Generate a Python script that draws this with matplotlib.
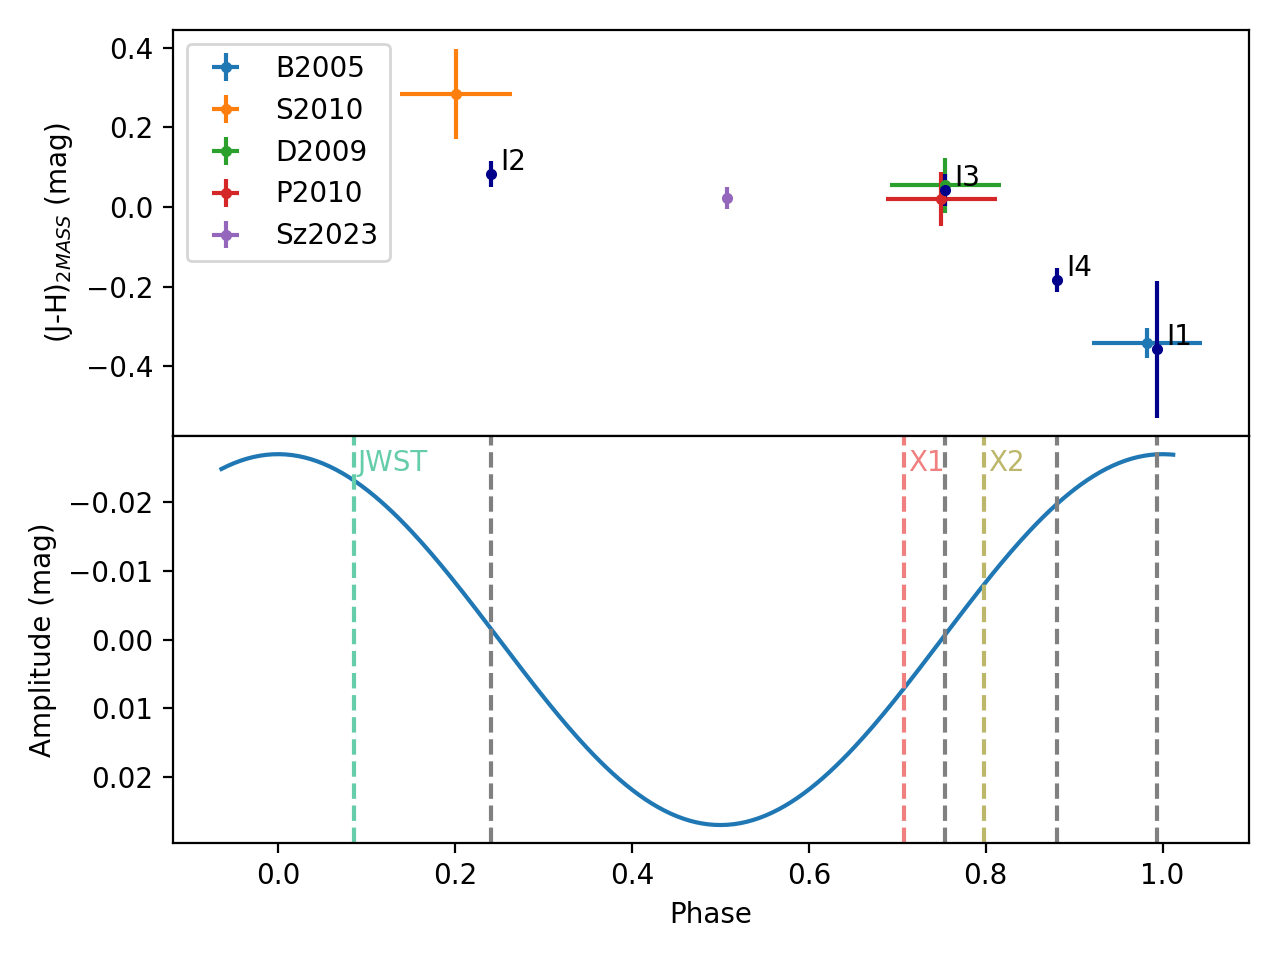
import matplotlib
matplotlib.use("Agg")
import matplotlib.pyplot as plt
import numpy as np

# literature colours
lit_labels = ["B2005", "S2010", "D2009", "P2010", "Sz2023"]
lit_phase = [0.982, 0.201, 0.7545, 0.750, 0.507]
lit_phase_err = [0.062, 0.063, 0.063, 0.063, 0.0]
lit_jh = [-0.342, 0.284, 0.055, 0.020, 0.023]
lit_jh_err = [0.038, 0.113, 0.069, 0.068, 0.028]

# our epochs
ep_labels = ["I1", "I2", "I3", "I4"]
ep_phase = [0.994, 0.241, 0.7545, 0.881]
ep_jh = [-0.357, 0.083, 0.043, -0.184]
ep_jh_err = [0.172, 0.032, 0.040, 0.030]

# other observations
obs_labels = ["JWST", "X1", "X2"]
obs_phase = [0.086, 0.708, 0.7986]
obs_colors = ["mediumaquamarine", "lightcoral", "darkkhaki"]

# sine model
amplitude = 0.027
phase_range = (-0.064, 1.012)

fig, (ax1, ax2) = plt.subplots(2, 1, sharex=True, figsize=(6.4, 4.8), dpi=200)
fig.subplots_adjust(left=0.135, right=0.976, top=0.969, bottom=0.122, hspace=0)

for lab, x, xe, y, ye in zip(lit_labels, lit_phase, lit_phase_err, lit_jh, lit_jh_err):
    ax1.errorbar(x, y, xerr=xe, yerr=ye, fmt=".", label=lab)

for lab, x, y, ye in zip(ep_labels, ep_phase, ep_jh, ep_jh_err):
    ax1.errorbar(x, y, yerr=ye, fmt="o", color="darkblue", markersize=3)
    ax1.text(x + 0.01, y + 0.01, lab)

ax1.set_ylabel("(J-H)$_{2MASS}$ (mag)")
ax1.set_ylim(-0.576, 0.445)
ax1.legend(loc="upper left")

ph = np.linspace(phase_range[0], phase_range[1], 300)
ax2.plot(ph, -amplitude * np.cos(2 * np.pi * ph))
for x in ep_phase:
    ax2.axvline(x, color="grey", linestyle="--")
for lab, x, c in zip(obs_labels, obs_phase, obs_colors):
    ax2.axvline(x, color=c, linestyle="--")
    ax2.text(x + 0.004, -0.0245, lab, color=c)

ax2.set_ylim(0.0296, -0.0296)
ax2.set_xlim(-0.119, 1.098)
ax2.set_xlabel("Phase")
ax2.set_ylabel("Amplitude (mag)")

fig.savefig("out.png")
